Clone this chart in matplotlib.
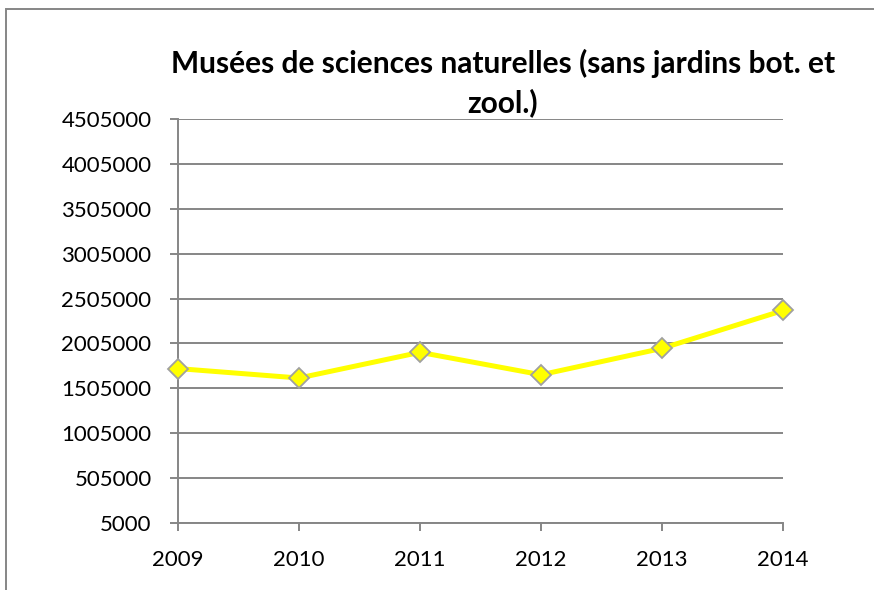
import matplotlib.pyplot as plt
from matplotlib.patches import Rectangle

# data
years = ['2009', '2010', '2011', '2012', '2013', '2014']
visitors = [1725000, 1620000, 1906000, 1656000, 1950000, 2372000]
yticks = [5000, 505000, 1005000, 1505000, 2005000, 2505000, 3005000, 3505000, 4005000, 4505000]
title_lines = ['Musées de sciences naturelles (sans jardins bot. et', 'zool.)']

plt.rcParams['font.family'] = ['Lato', 'DejaVu Sans']

fig = plt.figure(figsize=(8.74, 5.9), dpi=100)
ax = fig.add_axes([178/874, 67/590, 605/874, 404/590])

x = list(range(len(years)))
ax.plot(x, visitors, color='#FFFF00', lw=3.6, marker='D', markersize=10,
        markerfacecolor='#FFFF00', markeredgecolor='#A0A0A0', markeredgewidth=1.3,
        zorder=3, clip_on=False)

ax.set_xlim(0, len(years) - 1)
ax.set_ylim(yticks[0], yticks[-1])
ax.set_xticks(x)
ax.set_xticklabels(years)
ax.set_yticks(yticks)
ax.set_yticklabels([str(v) for v in yticks])

ax.grid(axis='y', color='#868686', lw=1.4)
ax.set_axisbelow(True)
for side in ['top', 'right']:
    ax.spines[side].set_visible(False)
for side in ['left', 'bottom']:
    ax.spines[side].set_color('#868686')
    ax.spines[side].set_linewidth(1.4)
ax.tick_params(axis='both', colors='#868686', labelcolor='black', labelsize=16,
               length=6, width=1.4)
ax.tick_params(axis='y', pad=13)
ax.tick_params(axis='x', pad=13.5)

# title as two lines, Excel wraps it this way
for line, ypix in zip(title_lines, [73, 112]):
    fig.text(503/874, 1 - ypix/590, line, ha='center', va='baseline',
             fontsize=21.5, fontweight='bold')

# chart frame, extends off the right and bottom edges
fig.patches.append(Rectangle((5.5/874, -0.1), 1.0, 1 - 9/590 + 0.1,
                             transform=fig.transFigure, fill=False,
                             edgecolor='#868686', lw=1.4))

fig.savefig('out.png', dpi=100)
